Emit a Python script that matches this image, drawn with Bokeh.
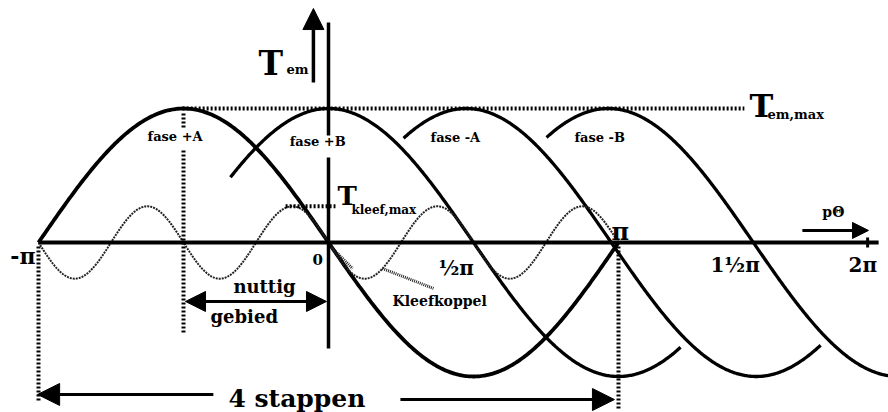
import numpy as np
from bokeh.plotting import figure
from bokeh.models import Range1d, Arrow, NormalHead
from bokeh.core.properties import value
from bokeh.embed import file_html
from bokeh.resources import INLINE

# Horizontal coordinate: electrical angle p*Theta in units of pi.
# Vertical coordinate: torque relative to T_em,max.

# Phase torque curves: T = cos(pi * (x - peak)) drawn between start and end
phase_names = ["fase +A", "fase +B", "fase -A", "fase -B"]
phase_peaks = [-0.5, 0.0, 0.475, 0.965]
phase_start = [-1.0, -0.338, 0.259, 0.752]
phase_end = [1.0, 1.214, 1.697, 1.931]
phase_line_widths = [3.8, 3.3, 3.3, 3.3]

# Cogging torque (Kleefkoppel): four periods per 2*pi
kleef_amp = 0.27
kleef_harmonic = 4
kleef_range = [-1.0, 1.0]

# Torque levels
tem_max = 1.0
tkleef_max = kleef_amp

# Angle axis tick labels
tick_labels = ["-π", "0", "½π", "π", "1½π", "2π"]

FONT = value("DejaVu Serif")
PX_PER_UNIT_Y = 134.0

p = figure(width=888, height=412,
           x_range=Range1d(-328 / 290, 560 / 290),
           y_range=Range1d(-170 / 134, 242 / 134),
           output_backend="svg", toolbar_location=None,
           x_axis_location=None, y_axis_location=None,
           min_border=0, background_fill_color="white",
           border_fill_color="white")
p.grid.visible = False
p.outline_line_color = None

# --- phase torque curves
for peak, x0, x1, lw in zip(phase_peaks, phase_start, phase_end, phase_line_widths):
    x = np.linspace(x0, x1, 400)
    p.line(x, np.cos(np.pi * (x - peak)), line_color="black",
           line_width=lw, line_join="round")

# --- cogging torque
xk = np.linspace(kleef_range[0], kleef_range[1], 800)
p.line(xk, -kleef_amp * np.sin(kleef_harmonic * np.pi * xk),
       line_color="#222222", line_width=2, line_dash="2 1")

# --- axes drawn as lines
p.line([-1.0, 1.897], [0, 0], line_color="black", line_width=4)
p.line([1.859, 1.859], [0.037, -0.037], line_color="black", line_width=3)
p.multi_line([[0, 0], [0, 0]], [[1.642, 0.799], [0.634, -0.791]],
             line_color="black", line_width=3.5)

# T_em arrow
p.add_layout(Arrow(x_start=-0.052, y_start=1.194, x_end=-0.052, y_end=1.746,
                   line_width=3.5, line_color="black",
                   end=NormalHead(size=21, fill_color="black", line_color="black")))

# p-Theta arrow
p.add_layout(Arrow(x_start=1.634, y_start=0.09, x_end=1.862, y_end=0.09,
                   line_width=3, line_color="black",
                   end=NormalHead(size=16, fill_color="black", line_color="black")))

# --- dotted guide lines (short tick-like dashes)
dot = dict(line_color="black", line_width=4, line_dash="2 2")
p.line([-0.503, 1.434], [tem_max, tem_max], **dot)
p.multi_line([[-0.5, -0.5], [-0.5, -0.5], [-1, -1], [1, 1]],
             [[0.963, 0.858], [0.687, -0.679], [-0.03, -1.194], [-0.03, -1.24]], **dot)
p.line([-0.148, 0.024], [tkleef_max, tkleef_max], **dot)
p.multi_line([[0.014, 0.083], [0.186, 0.362]], [[-0.045, -0.194], [-0.194, -0.343]],
             line_color="#222222", line_width=3, line_dash="1 1")

# --- 'nuttig gebied' double arrow
p.add_layout(Arrow(x_start=-0.493, y_start=-0.44, x_end=-0.007, y_end=-0.44,
                   line_width=3, line_color="black",
                   start=NormalHead(size=20, fill_color="black", line_color="black"),
                   end=NormalHead(size=20, fill_color="black", line_color="black")))

# --- '4 stappen' arrows
p.add_layout(Arrow(x_start=-0.397, y_start=-1.134, x_end=-1.003, y_end=-1.134,
                   line_width=3, line_color="black",
                   end=NormalHead(size=22, fill_color="black", line_color="black")))
p.add_layout(Arrow(x_start=0.248, y_start=-1.172, x_end=0.986, y_end=-1.172,
                   line_width=3, line_color="black",
                   end=NormalHead(size=22, fill_color="black", line_color="black")))


def label(x, y, text, size):
    # lift by the font's descent so (x, y) is the visual baseline
    y_base = y + 0.28 * size / PX_PER_UNIT_Y
    p.text(x=[x], y=[y_base], text=[text], text_font=FONT, text_font_style="bold",
           text_font_size=f"{size}px", text_color="black",
           text_align="left", text_baseline="alphabetic")


# phase names
for (x, y), name in zip([(-0.624, 0.761), (-0.134, 0.724), (0.352, 0.754), (0.848, 0.754)],
                        phase_names):
    label(x, y, name, 13)

# torque symbols
label(-0.241, 1.269, "T", 33)
label(-0.145, 1.261, "em", 13)
label(1.452, 0.955, "T", 32)
label(1.514, 0.925, "em,max", 13)
label(0.031, 0.291, "T", 26)
label(0.079, 0.216, "kleef,max", 12)

# tick labels
for (x, y), t, s in zip([(-1.097, -0.149), (-0.055, -0.157), (0.379, -0.231),
                         (0.976, 0.030), (1.317, -0.209), (1.793, -0.209)],
                        tick_labels, [22, 15, 20, 24, 20, 20]):
    label(x, y, t, s)

label(1.703, 0.201, "pΘ", 14)
label(-0.328, -0.366, "nuttig", 18)
label(-0.407, -0.590, "gebied", 18)
label(0.221, -0.463, "Kleefkoppel", 14)
label(-0.345, -1.216, "4 stappen", 25)

open("out.html", "w").write(file_html(p, INLINE))
